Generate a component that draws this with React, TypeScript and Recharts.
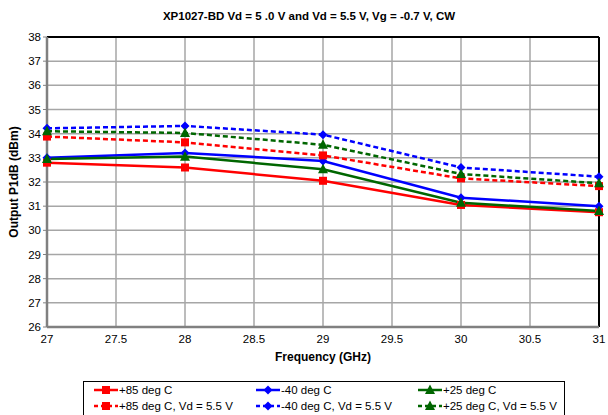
import React from "react";
import {
  CartesianGrid,
  Line,
  LineChart,
  ReferenceLine,
  XAxis,
  YAxis,
} from "recharts";

const frequency = [27, 28, 29, 30, 31];
const hot = [32.8, 32.6, 32.05, 31.05, 30.75];
const cold = [33.0, 33.2, 32.87, 31.35, 31.0];
const room = [32.95, 33.05, 32.53, 31.14, 30.8];
const hot55 = [33.88, 33.64, 33.1, 32.15, 31.83];
const cold55 = [34.22, 34.32, 33.96, 32.6, 32.22];
const room55 = [34.1, 34.03, 33.54, 32.33, 31.95];

const xTicks = [27, 27.5, 28, 28.5, 29, 29.5, 30, 30.5, 31];
const yTicks = [26, 27, 28, 29, 30, 31, 32, 33, 34, 35, 36, 37, 38];

const data = frequency.map((f, i) => ({
  f,
  hot: hot[i],
  cold: cold[i],
  room: room[i],
  hot55: hot55[i],
  cold55: cold55[i],
  room55: room55[i],
}));

type Shape = "square" | "diamond" | "triangle";

const series: { key: string; name: string; color: string; shape: Shape; dashed: boolean }[] = [
  { key: "hot", name: "+85 deg C", color: "#ff0000", shape: "square", dashed: false },
  { key: "cold", name: "-40 deg C", color: "#0000ff", shape: "diamond", dashed: false },
  { key: "room", name: "+25 deg C", color: "#006600", shape: "triangle", dashed: false },
  { key: "hot55", name: "+85 deg C, Vd = 5.5 V", color: "#ff0000", shape: "square", dashed: true },
  { key: "cold55", name: "-40 deg C, Vd = 5.5 V", color: "#0000ff", shape: "diamond", dashed: true },
  { key: "room55", name: "+25 deg C, Vd = 5.5 V", color: "#006600", shape: "triangle", dashed: true },
];

function marker(shape: Shape, cx: number, cy: number, color: string, key?: React.Key) {
  if (shape === "square")
    return <rect key={key} x={cx - 4} y={cy - 4} width={8} height={8} fill={color} />;
  if (shape === "diamond")
    return (
      <polygon
        key={key}
        points={`${cx},${cy - 4.5} ${cx + 4.5},${cy} ${cx},${cy + 4.5} ${cx - 4.5},${cy}`}
        fill={color}
      />
    );
  return (
    <polygon
      key={key}
      points={`${cx},${cy - 5.5} ${cx + 5},${cy + 4} ${cx - 5},${cy + 4}`}
      fill={color}
    />
  );
}

const FONT = "'Liberation Sans', Arial, sans-serif";

// legend is drawn as html so recharts doesn't shrink the plot for it
function LegendBox() {
  const cols = [0, 162, 324];
  return (
    <div
      style={{
        position: "absolute",
        left: 83,
        top: 381,
        border: "1px solid #000",
        width: 480,
        height: 44,
        background: "#fff",
        fontSize: 11.5,
        color: "#000",
      }}
    >
      {series.map((s, i) => {
        const left = 9 + cols[i % 3];
        const top = i < 3 ? 0 : 16;
        return (
          <div
            key={s.key}
            style={{ position: "absolute", left, top, height: 16, display: "flex", alignItems: "center", whiteSpace: "nowrap" }}
          >
            <svg width={26} height={12}>
              <line
                x1={1}
                x2={25}
                y1={6}
                y2={6}
                stroke={s.color}
                strokeWidth={2.5}
                strokeDasharray={s.dashed ? "4 3" : undefined}
              />
              {marker(s.shape, 13, 6, s.color)}
            </svg>
            <span>{s.name}</span>
          </div>
        );
      })}
    </div>
  );
}

export default function App() {
  return (
    <div
      style={{
        position: "absolute",
        left: 0,
        top: 0,
        width: 608,
        height: 415,
        overflow: "hidden",
        background: "#fff",
        fontFamily: FONT,
      }}
    >
      <div
        style={{
          position: "absolute",
          left: 0,
          top: 10,
          width: 608,
          textAlign: "center",
          fontSize: 11.5,
          fontWeight: "bold",
          paddingLeft: 10,
          boxSizing: "border-box",
        }}
      >
        XP1027-BD Vd = 5 .0 V and Vd = 5.5 V, Vg = -0.7 V, CW
      </div>
      <div
        style={{
          position: "absolute",
          left: 14 - 100,
          top: 182 - 8,
          width: 200,
          textAlign: "center",
          fontSize: 12,
          fontWeight: "bold",
          transform: "rotate(-90deg)",
          lineHeight: "16px",
        }}
      >
        Output P1dB (dBm)
      </div>
      <div
        style={{
          position: "absolute",
          left: 47,
          top: 350,
          width: 552,
          textAlign: "center",
          fontSize: 12,
          fontWeight: "bold",
        }}
      >
        Frequency (GHz)
      </div>
      <LineChart
        width={608}
        height={415}
        data={data}
        margin={{ top: 37, right: 9, bottom: 58, left: 0 }}
      >
        <CartesianGrid stroke="#a6a6a6" strokeWidth={1.5} />
        <XAxis
          dataKey="f"
          type="number"
          domain={[27, 31]}
          ticks={xTicks}
          height={30}
          tickLine={false}
          axisLine={{ stroke: "#808080", strokeWidth: 2.5 }}
          tick={{ fill: "#000", fontSize: 11.5, fontFamily: FONT }}
        />
        <YAxis
          type="number"
          domain={[26, 38]}
          ticks={yTicks}
          width={47}
          tickSize={4}
          tickLine={{ stroke: "#808080" }}
          axisLine={{ stroke: "#808080", strokeWidth: 2.5 }}
          tick={{ fill: "#000", fontSize: 11.5, fontFamily: FONT }}
        />
        <ReferenceLine y={38} stroke="#000" strokeWidth={2} />
        <ReferenceLine x={31} stroke="#000" strokeWidth={2} />
        {series.map((s) => (
          <Line
            key={s.key}
            dataKey={s.key}
            name={s.name}
            stroke={s.color}
            strokeWidth={2.5}
            strokeDasharray={s.dashed ? "5 3" : undefined}
            isAnimationActive={false}
            dot={(p: any) => marker(s.shape, p.cx, p.cy, s.color, `${s.key}-${p.index}`)}
            activeDot={false}
          />
        ))}
      </LineChart>
      <LegendBox />
    </div>
  );
}
